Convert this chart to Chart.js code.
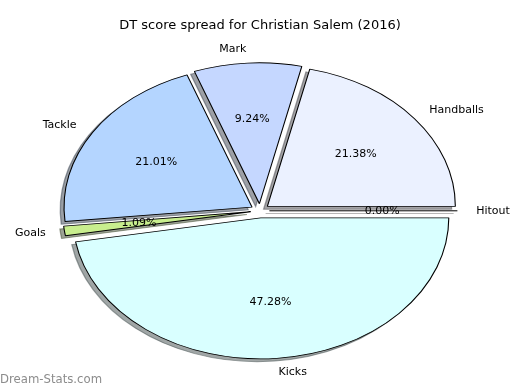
<!DOCTYPE html>
<html>
<head>
<meta charset="utf-8">
<script src="https://cdn.jsdelivr.net/npm/chart.js@4.4.1/dist/chart.umd.min.js"></script>
<style>
  html, body { margin: 0; padding: 0; background: #fff; }
  #wrap { width: 520px; height: 390px; }
</style>
</head>
<body>
<div id="wrap"><canvas id="pie" width="520" height="390"></canvas></div>
<script>
// slices in draw order: clockwise on screen from 3 o'clock
// (the original runs counter-clockwise starting with Hitout)
const labels = ['Kicks', 'Goals', 'Tackle', 'Mark', 'Handballs', 'Hitout'];
const shares = [47.28, 1.09, 21.01, 9.24, 21.38, 0.00];
const colors = ['#d9ffff', '#c8ee8e', '#b4d5ff', '#c5d7ff', '#ebf1ff', '#cccccc'];
const titleText = 'DT score spread for Christian Salem (2016)';
const watermark = 'Dream-Stats.com';

const SQUASH = 0.75;   // pie is an ellipse, height / width
const EXPLODE = 9.4;   // px every wedge is pushed out
const SHADOW = 0.02;   // shadow shift, fraction of radius
const FONT = "'DejaVu Sans', sans-serif";

Chart.defaults.font.family = FONT;

// push each wedge outwards ourselves (built-in offset also grows the radius)
const arcDraw = Chart.ArcElement.prototype.draw;
Chart.ArcElement.prototype.draw = function (ctx) {
    const mid = (this.startAngle + this.endAngle) / 2;
    ctx.save();
    ctx.translate(Math.cos(mid) * EXPLODE, Math.sin(mid) * EXPLODE);
    arcDraw.call(this, ctx);
    ctx.restore();
};

function shade(hex) {
    const n = parseInt(hex.slice(1), 16);
    const r = Math.round(((n >> 16) & 255) * 0.3);
    const g = Math.round(((n >> 8) & 255) * 0.3);
    const b = Math.round((n & 255) * 0.3);
    return `rgba(${r},${g},${b},0.5)`;
}

const ellipsePie = {
    id: 'ellipsePie',
    beforeDatasetsDraw(chart) {
        const ctx = chart.ctx;
        const arcs = chart.getDatasetMeta(0).data;
        const c = arcs[0];
        ctx.save();
        ctx.translate(c.x, c.y);
        ctx.scale(1, SQUASH);
        ctx.translate(-c.x, -c.y);

        // shadows under everything
        arcs.forEach((arc, i) => {
            const r = arc.outerRadius;
            const mid = (arc.startAngle + arc.endAngle) / 2;
            const cx = arc.x + Math.cos(mid) * EXPLODE - SHADOW * r;
            const cy = arc.y + Math.sin(mid) * EXPLODE + SHADOW * r;
            ctx.beginPath();
            ctx.moveTo(cx, cy);
            ctx.arc(cx, cy, r, arc.startAngle, arc.endAngle);
            ctx.closePath();
            ctx.fillStyle = shade(colors[i]);
            ctx.strokeStyle = shade(colors[i]);
            ctx.lineWidth = 1.3;
            ctx.fill();
            ctx.stroke();
        });
    },
    afterDatasetsDraw(chart) {
        const ctx = chart.ctx;
        ctx.restore();
        const arcs = chart.getDatasetMeta(0).data;

        // zero-size wedges show as a single edge line
        arcs.forEach((arc) => {
            if (arc.endAngle - arc.startAngle > 1e-6) return;
            const r = arc.outerRadius;
            const a = arc.startAngle;
            const cx = arc.x + Math.cos(a) * EXPLODE;
            const cy = arc.y + Math.sin(a) * EXPLODE * SQUASH;
            ctx.beginPath();
            ctx.moveTo(cx, cy);
            ctx.lineTo(cx + Math.cos(a) * r, cy + Math.sin(a) * r * SQUASH);
            ctx.strokeStyle = '#000';
            ctx.lineWidth = 1;
            ctx.stroke();
        });

        // percentages and names
        ctx.fillStyle = '#000';
        ctx.font = '11px ' + FONT;
        ctx.textBaseline = 'middle';
        arcs.forEach((arc, i) => {
            const r = arc.outerRadius;
            const mid = (arc.startAngle + arc.endAngle) / 2;
            const ux = Math.cos(mid), uy = Math.sin(mid);
            const cx = arc.x + ux * EXPLODE;
            const cy = arc.y + uy * EXPLODE * SQUASH;
            ctx.textAlign = 'center';
            ctx.fillText(shares[i].toFixed(2) + '%', cx + ux * r * 0.6, cy + uy * r * 0.6 * SQUASH);
            ctx.textAlign = ux > 0 ? 'left' : 'right';
            ctx.fillText(labels[i], cx + ux * r * 1.1, cy + uy * r * 1.1 * SQUASH);
        });
    },
    afterDraw(chart) {
        const ctx = chart.ctx;
        ctx.save();
        ctx.fillStyle = '#8c8c8c';
        ctx.font = '11.7px ' + FONT;
        ctx.textAlign = 'left';
        ctx.textBaseline = 'middle';
        ctx.fillText(watermark, 0, 380);
        ctx.restore();
    }
};

new Chart(document.getElementById('pie'), {
    type: 'pie',
    data: {
        labels: labels,
        datasets: [{
            data: shares,
            backgroundColor: colors,
            borderColor: '#000',
            borderWidth: 1.1,
            clip: false
        }]
    },
    options: {
        responsive: false,
        animation: false,
        rotation: 90,
        radius: 188,
        layout: { padding: { bottom: 2 } },
        plugins: {
            legend: { display: false },
            tooltip: { enabled: false },
            title: {
                display: true,
                text: titleText,
                color: '#000',
                font: { size: 13, weight: 'normal', family: FONT },
                padding: { top: 18, bottom: 0 }
            }
        }
    },
    plugins: [ellipsePie]
});
</script>
</body>
</html>
